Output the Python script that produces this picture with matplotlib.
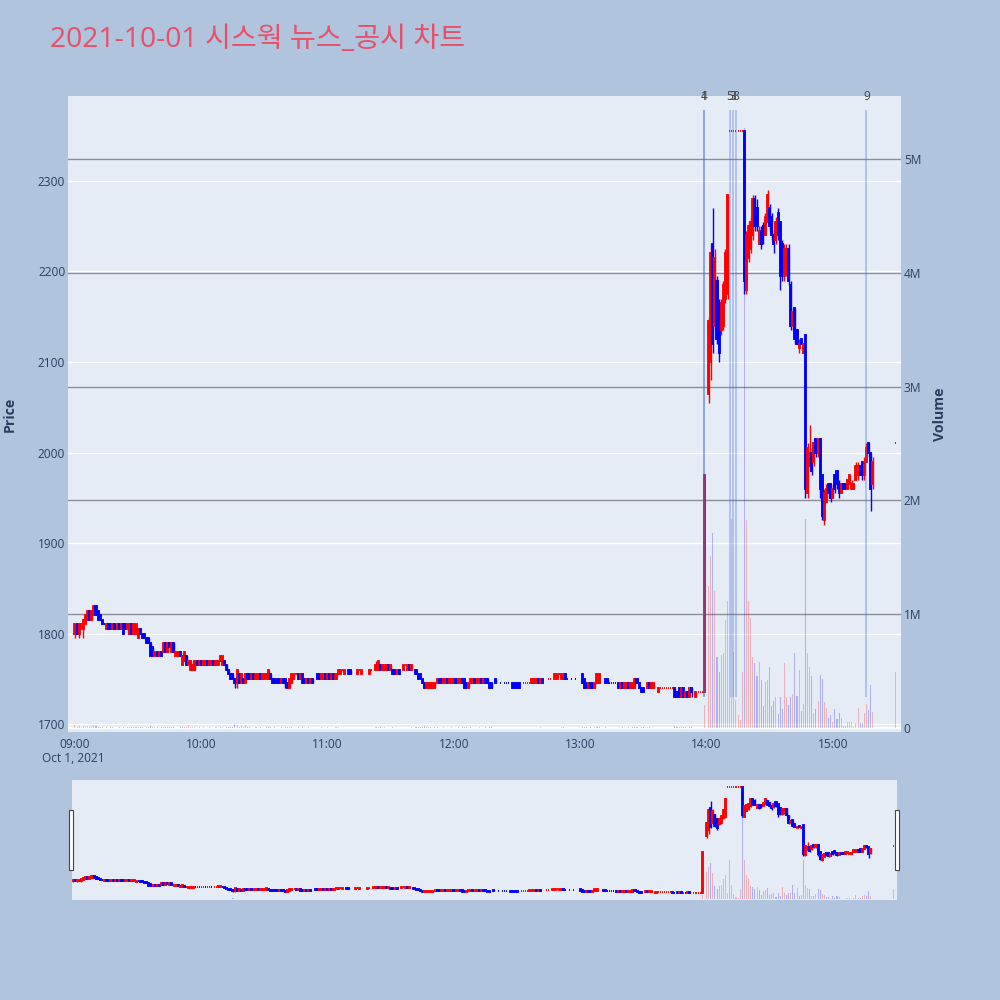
import numpy as np
import pandas as pd
import matplotlib
matplotlib.use("Agg")
import matplotlib.pyplot as plt
from matplotlib.patches import Rectangle
from matplotlib.transforms import blended_transform_factory

plt.rcParams['font.family'] = ['Open Sans', 'Noto Sans CJK KR', 'DejaVu Sans']

N = None
# ---------------- data (1-minute candles, 09:00 .. 15:19 plus 15:30 close) ----------------
times = pd.date_range('2021-10-01 09:00', '2021-10-01 15:19', freq='min').append(
    pd.DatetimeIndex(['2021-10-01 15:30']))

opens = [
 1800,1810,1800,1805,1805,1810,1815,1825,1815,1820,
 1830,1825,1820,1815,1810,1805,1810,1810,1805,1810,
 1805,1810,1805,1810,1810,1805,1800,1810,1800,1800,
 1795,1805,1800,1800,1795,1795,1790,1785,1775,1780,
 1775,1780,1780,1790,1780,1790,1780,1790,1775,1775,
 1780,1765,1770,1775,1765,1760,1760,1760,1770,1765,
 1770,1765,1765,1770,1765,1765,1770,1765,1765,1770,
 1765,1770,1765,1760,1755,1755,1750,1745,1755,1745,
 1750,1745,1755,1755,1750,1755,1750,1750,1755,1750,
 1750,1750,1750,1755,1750,1750,1750,1750,1745,1750,
 1750,1745,1740,1745,1750,1755,1755,1750,1755,1750,
 1745,1750,1745,1750,N,1755,1755,1750,1750,1755,
 1750,1755,1750,1755,1750,1755,1755,1760,1755,N,
 1760,1760,N,N,1755,1760,1755,N,N,N,
 1755,1760,N,1760,1760,1765,1760,1760,1760,1765,
 1760,1760,1760,1755,1760,N,1760,1765,1760,1765,
 1760,N,1760,1755,1755,1750,1745,1740,1740,1740,
 1740,1740,1745,1750,1750,1745,1745,1750,1745,1745,
 1745,1750,1745,1745,1750,1750,1745,1740,1745,1745,
 1750,1745,1745,1750,1745,1750,1750,1745,1745,N,
 1750,N,1745,N,1745,1745,1745,N,1745,1745,
 1745,1745,N,1745,1745,1745,1745,1745,1745,1745,
 1750,1745,1750,N,N,1750,1750,N,1750,1750,
 1755,1750,1750,1755,1750,N,1750,N,1750,N,
 N,1755,1750,1745,1740,1745,1745,1740,1745,1745,
 N,N,1750,1750,1745,1745,1745,1745,1745,1740,
 1745,1740,1740,1745,1740,1740,1740,1750,1745,1740,
 1740,N,1740,1745,1740,1740,N,1735,1740,1740,
 1740,1740,1740,1740,1740,1740,1735,1740,1730,1740,
 1730,1735,1730,1740,N,1730,1735,1735,1735,1735,
 N,2065,2100,2230,2140,2190,2165,2135,2140,2170,
 2175,2355,2355,2355,2355,2355,2355,2355,2355,2180,
 2215,2225,2240,2280,2270,2230,2245,2250,2240,2255,
 2270,2260,2240,2235,2265,2255,2230,2195,2200,2225,
 2185,2140,2160,2135,2115,2125,2110,2130,1955,1985,
 2000,1990,2015,2000,2015,1975,1925,1945,1965,1965,
 1950,1975,1980,1965,1955,1965,1965,1960,1965,1960,
 1960,1970,1975,1985,1990,1975,1990,2010,2000,1965,
 2010]

highs = [
 1810,1810,1810,1810,1815,1820,1825,1825,1825,1830,
 1830,1825,1820,1815,1810,1810,1810,1810,1810,1810,
 1810,1810,1810,1810,1810,1810,1810,1810,1810,1810,
 1805,1805,1800,1800,1795,1795,1790,1785,1780,1780,
 1780,1780,1790,1790,1790,1790,1790,1790,1780,1780,
 1780,1775,1780,1775,1770,1770,1765,1770,1770,1770,
 1770,1770,1770,1770,1770,1770,1770,1770,1770,1775,
 1775,1770,1765,1760,1755,1755,1750,1760,1755,1755,
 1750,1755,1755,1755,1755,1755,1755,1755,1755,1755,
 1755,1755,1760,1755,1750,1750,1750,1750,1750,1750,
 1750,1745,1750,1755,1755,1755,1755,1755,1755,1750,
 1750,1750,1750,1750,N,1755,1755,1755,1755,1755,
 1755,1755,1755,1755,1755,1760,1760,1760,1760,N,
 1760,1760,N,N,1760,1760,1760,N,N,N,
 1760,1760,N,1770,1770,1765,1765,1765,1765,1765,
 1765,1760,1760,1760,1760,N,1765,1765,1765,1765,
 1765,N,1760,1755,1755,1750,1745,1745,1745,1745,
 1745,1745,1750,1750,1750,1750,1750,1750,1750,1750,
 1750,1750,1750,1750,1750,1750,1745,1745,1750,1750,
 1750,1750,1750,1750,1750,1750,1750,1745,1745,N,
 1750,N,1745,N,1745,1745,1745,N,1745,1745,
 1745,1745,N,1745,1745,1745,1745,1750,1750,1750,
 1750,1750,1750,N,N,1750,1750,N,1755,1755,
 1755,1755,1755,1755,1750,N,1750,N,1750,N,
 N,1755,1750,1745,1745,1745,1745,1745,1755,1755,
 N,N,1750,1750,1745,1745,1745,1745,1745,1745,
 1745,1745,1745,1745,1745,1745,1750,1750,1745,1740,
 1740,N,1745,1745,1745,1745,N,1740,1740,1740,
 1740,1740,1740,1740,1740,1740,1735,1740,1740,1740,
 1735,1735,1740,1740,N,1735,1735,1735,1735,1975,
 N,2150,2230,2270,2225,2195,2170,2170,2190,2225,
 2285,2355,2355,2355,2355,2355,2355,2355,2355,2245,
 2255,2260,2285,2285,2280,2250,2250,2255,2265,2290,
 2275,2265,2245,2260,2270,2255,2235,2230,2230,2230,
 2190,2160,2160,2135,2125,2125,2120,2130,2010,2030,
 2005,2015,2015,2015,2015,1975,1960,1965,1965,1965,
 1965,1975,1980,1970,1965,1965,1965,1970,1975,1970,
 1965,1990,1990,1985,1990,1995,2010,2010,2000,1995,
 2010]

lows = [
 1795,1800,1795,1805,1795,1810,1815,1815,1815,1820,
 1820,1815,1815,1810,1810,1805,1805,1805,1805,1805,
 1805,1805,1805,1800,1805,1800,1800,1800,1800,1800,
 1795,1800,1795,1795,1790,1790,1775,1775,1775,1775,
 1775,1775,1780,1780,1780,1785,1780,1780,1775,1775,
 1775,1765,1770,1765,1765,1760,1760,1760,1765,1765,
 1765,1765,1765,1765,1765,1765,1765,1765,1765,1770,
 1765,1765,1760,1755,1750,1750,1740,1740,1745,1745,
 1745,1745,1750,1750,1750,1750,1750,1750,1750,1750,
 1750,1750,1750,1750,1745,1745,1745,1745,1745,1745,
 1740,1740,1740,1745,1750,1755,1750,1750,1745,1745,
 1745,1745,1745,1745,N,1750,1750,1750,1750,1750,
 1750,1750,1750,1750,1750,1755,1755,1760,1755,N,
 1755,1755,N,N,1755,1760,1755,N,N,N,
 1755,1760,N,1760,1760,1760,1760,1760,1760,1760,
 1760,1755,1755,1755,1755,N,1760,1765,1760,1760,
 1760,N,1755,1750,1750,1745,1740,1740,1740,1740,
 1740,1740,1745,1745,1745,1745,1745,1745,1745,1745,
 1745,1745,1745,1745,1745,1740,1740,1740,1745,1745,
 1745,1745,1745,1745,1745,1745,1745,1740,1740,N,
 1745,N,1745,N,1745,1745,1745,N,1740,1740,
 1740,1740,N,1745,1745,1745,1745,1745,1745,1745,
 1745,1745,1745,N,N,1750,1750,N,1750,1750,
 1755,1750,1750,1750,1750,N,1750,N,1750,N,
 N,1745,1740,1740,1740,1740,1740,1740,1745,1745,
 N,N,1745,1745,1745,1745,1745,1745,1740,1740,
 1740,1740,1740,1740,1740,1740,1740,1745,1740,1735,
 1735,N,1740,1740,1740,1740,N,1735,1740,1740,
 1740,1740,1740,1740,1740,1730,1730,1730,1730,1730,
 1730,1730,1730,1730,N,1730,1735,1735,1735,1735,
 N,2055,2080,2110,2135,2120,2100,2130,2135,2165,
 2170,2355,2355,2355,2355,2355,2355,2355,2175,2175,
 2210,2220,2235,2245,2245,2230,2225,2230,2240,2255,
 2245,2235,2220,2230,2235,2180,2190,2190,2195,2185,
 2135,2135,2120,2120,2110,2120,2110,1950,1950,1980,
 1975,1985,1995,1995,1950,1925,1920,1945,1950,1945,
 1950,1955,1960,1950,1955,1960,1960,1960,1965,1960,
 1960,1970,1970,1975,1970,1970,1990,1995,1935,1960,
 2010]

closes = [
 1810,1800,1810,1810,1815,1820,1825,1815,1825,1830,
 1820,1815,1815,1810,1810,1810,1805,1805,1810,1805,
 1810,1805,1810,1800,1805,1810,1810,1800,1810,1810,
 1805,1800,1795,1795,1790,1790,1775,1775,1780,1775,
 1780,1775,1790,1780,1790,1785,1790,1780,1780,1780,
 1775,1775,1780,1765,1770,1770,1765,1770,1765,1770,
 1765,1770,1770,1765,1770,1770,1765,1770,1770,1775,
 1775,1765,1760,1755,1750,1750,1745,1760,1745,1755,
 1745,1755,1750,1750,1755,1750,1755,1755,1750,1755,
 1755,1755,1760,1750,1745,1745,1745,1745,1750,1745,
 1745,1740,1750,1755,1755,1755,1750,1755,1745,1745,
 1750,1745,1750,1745,N,1750,1750,1755,1755,1750,
 1755,1750,1755,1750,1755,1760,1760,1760,1760,N,
 1755,1755,N,N,1760,1760,1760,N,N,N,
 1760,1760,N,1765,1770,1760,1765,1765,1765,1760,
 1765,1755,1755,1760,1755,N,1765,1765,1765,1760,
 1765,N,1755,1750,1750,1745,1740,1745,1745,1745,
 1745,1745,1750,1745,1745,1750,1750,1745,1750,1750,
 1750,1745,1750,1750,1745,1740,1740,1745,1750,1750,
 1745,1750,1750,1745,1750,1745,1745,1740,1740,N,
 1745,N,1745,N,1745,1745,1745,N,1740,1740,
 1740,1740,N,1745,1745,1745,1745,1750,1750,1750,
 1745,1750,1745,N,N,1750,1750,N,1755,1755,
 1755,1755,1755,1750,1750,N,1750,N,1750,N,
 N,1745,1740,1740,1745,1740,1740,1745,1755,1755,
 N,N,1745,1745,1745,1745,1745,1745,1740,1745,
 1740,1745,1745,1740,1745,1745,1750,1745,1740,1735,
 1735,N,1745,1740,1745,1745,N,1740,1740,1740,
 1740,1740,1740,1740,1740,1730,1730,1730,1740,1730,
 1735,1730,1740,1735,N,1735,1735,1735,1735,1975,
 N,2145,2220,2120,2215,2125,2110,2165,2185,2220,
 2285,2355,2355,2355,2355,2355,2355,2355,2190,2240,
 2250,2255,2280,2250,2250,2245,2230,2240,2260,2285,
 2250,2240,2230,2255,2240,2195,2200,2225,2225,2190,
 2140,2155,2125,2120,2120,2120,2120,1960,2005,2000,
 1980,2010,2000,2015,1960,1930,1955,1960,1955,1950,
 1960,1960,1965,1955,1965,1960,1960,1970,1975,1965,
 1965,1985,1985,1975,1975,1990,2005,2000,1960,1990,
 2010]

# volume in thousands of shares
volumes_k = [
 25,12,18,8,15,20,22,10,14,30,
 18,9,6,7,3,5,4,6,5,3,
 4,6,3,5,4,7,8,5,6,9,
 10,6,5,4,7,5,18,9,6,5,
 4,6,12,7,8,5,6,5,4,3,
 5,9,6,8,30,12,7,5,4,6,
 4,5,3,4,6,3,4,5,3,6,
 5,4,7,9,8,12,35,28,10,14,
 8,25,6,5,4,3,5,4,6,3,
 4,5,12,6,4,5,3,4,5,3,
 8,6,9,7,4,3,5,4,6,3,
 4,5,3,4,0,3,4,5,3,4,
 5,3,4,3,5,6,4,2,3,0,
 3,2,0,0,4,2,3,0,0,0,
 3,2,0,8,10,6,4,5,3,4,
 3,5,4,3,4,0,3,2,4,3,
 5,0,6,7,8,12,15,10,6,5,
 4,5,6,4,3,5,4,3,4,5,
 3,4,5,3,6,8,5,4,5,3,
 4,3,5,4,3,5,4,6,5,0,
 3,0,2,0,2,2,1,0,4,3,
 3,4,0,2,1,2,1,3,4,3,
 4,5,3,0,0,2,2,0,3,4,
 2,5,6,4,2,0,1,0,2,0,
 0,12,8,5,4,6,3,5,10,8,
 0,0,5,4,2,1,2,1,4,3,
 5,4,3,5,4,6,8,5,4,10,
 12,0,6,5,4,3,0,4,2,1,
 2,1,2,1,2,15,10,12,8,6,
 5,4,6,5,0,4,3,2,4,200,
 0,1250,1510,1710,1200,620,490,640,660,950,
 1120,270,1840,670,250,110,70,490,5270,1830,
 1120,970,620,570,460,580,420,190,400,420,
 540,190,240,270,120,270,170,570,270,200,
 270,300,660,280,510,150,210,1840,660,540,
 460,130,170,240,470,430,230,180,90,110,
 50,170,80,130,90,20,20,50,50,50,
 10,40,180,40,40,130,210,160,380,140,
 490]

news_labels = ['1', '4', '5', '3', '8', '9']
news_times = ['13:58:50', '13:58:50', '14:11:10', '14:12:40', '14:14:10', '15:16:00']

price_ticks = [1700, 1800, 1900, 2000, 2100, 2200, 2300]
vol_ticks = [0, 1e6, 2e6, 3e6, 4e6, 5e6]
vol_tick_labels = ['0', '1M', '2M', '3M', '4M', '5M']
hour_ticks = ['09:00', '10:00', '11:00', '12:00', '13:00', '14:00', '15:00']

# ---------------- prepare ----------------
day0 = pd.Timestamp('2021-10-01 09:00')
x = ((times - day0) / pd.Timedelta(minutes=1)).to_numpy(dtype=float)
o = np.array(opens, dtype=float)
h = np.array(highs, dtype=float)
l = np.array(lows, dtype=float)
c = np.array(closes, dtype=float)
v = np.array(volumes_k, dtype=float) * 1000.0
n = min(len(x), len(o), len(h), len(l), len(c), len(v))
x, o, h, l, c, v = x[:n], o[:n], h[:n], l[:n], c[:n], v[:n]

# plotly-style direction rule (doji keeps direction unless close changed)
inc = np.zeros(n, dtype=bool)
state = True
prev_c = None
for i in range(n):
    if np.isnan(o[i]):
        inc[i] = state
        continue
    if c[i] == o[i]:
        if prev_c is not None and c[i] != prev_c:
            state = c[i] > prev_c
    else:
        state = c[i] > o[i]
    inc[i] = state
    prev_c = c[i]

RED = '#FF0000'
BLUE = '#0000FF'
valid = ~np.isnan(o)
cols = np.where(inc, RED, BLUE)
vcol_list = [(1, 0, 0, 0.25) if d else (0, 0, 1, 0.25) for d in inc]

BG = '#B0C4DE'
PLOT_BG = '#E5ECF6'
TXT = '#2a3f5f'

XMIN, XMAX = -3.3, 392.4
RS_XMIN, RS_XMAX = -0.5, 391.5
PMIN, PMAX = 1691.2, 2393.9
VMIN, VMAX = -0.035e6, 5.554e6


def draw_candles(axp, body_w=0.5, wick_lw=1.0, edge_lw=1.35):
    xv, ov, hv, lv, cv = x[valid], o[valid], h[valid], l[valid], c[valid]
    cl = cols[valid]
    axp.vlines(xv, lv, hv, colors=cl, lw=wick_lw, zorder=3)
    axp.bar(xv, np.abs(cv - ov), bottom=np.minimum(ov, cv), width=body_w,
            color=cl, edgecolor=cl, linewidth=edge_lw, zorder=4)


def draw_volume(axv):
    idx = np.where(v > 0)[0]
    axv.bar(x[idx], v[idx], width=0.5, color=[vcol_list[i] for i in idx],
            linewidth=0, zorder=2)


fig = plt.figure(figsize=(10, 10), dpi=100, facecolor=BG)

# ---------------- main chart ----------------
ax_v = fig.add_axes([0.068, 0.268, 0.833, 0.636])
ax_v.set_facecolor(PLOT_BG)
ax_p = ax_v.twinx()
ax_p.patch.set_visible(False)
for a in (ax_v, ax_p):
    for s in a.spines.values():
        s.set_visible(False)
    a.set_xlim(XMIN, XMAX)
ax_v.set_ylim(VMIN, VMAX)
ax_p.set_ylim(PMIN, PMAX)

# gridlines (below traces)
ptrans = blended_transform_factory(ax_v.transAxes, ax_p.transData)
for pt in price_ticks:
    ax_v.plot([0, 1], [pt, pt], transform=ptrans, color='white', lw=1.0, zorder=0.5)
for vt in vol_ticks[1:]:
    ax_v.axhline(vt, color='#8a8f99', lw=1.0, zorder=0.6)
ax_v.axhline(0, color='white', lw=1.6, zorder=0.6)

draw_volume(ax_v)
draw_candles(ax_p)

# news lines
news_x = [(pd.Timestamp('2021-10-01 ' + t) - day0) / pd.Timedelta(minutes=1) for t in news_times]
line_lo = np.nanmin(l)
line_hi = np.nanmax(h) * 1.01
for nx in news_x:
    ax_p.vlines(nx, line_lo, line_hi, colors=[(0.25, 0.41, 0.88, 0.35)], lw=1.3, zorder=5)
ntrans = blended_transform_factory(ax_p.transData, ax_p.transAxes)
for nx, lab in zip(news_x, news_labels):
    ax_p.text(nx, 1.0, lab, transform=ntrans, ha='center', va='center',
              fontsize=8.6, color='#444444', zorder=6, clip_on=False)

# ticks
ax_v.set_xticks([60 * i for i in range(len(hour_ticks))])
ax_v.set_xticklabels(hour_ticks)
ax_p.tick_params(axis='x', bottom=False, labelbottom=False)
ax_v.tick_params(axis='x', length=0, pad=4, labelsize=8.6, labelcolor=TXT)

ax_p.yaxis.set_ticks_position('left')
ax_p.yaxis.set_label_position('left')
ax_p.set_yticks(price_ticks)
ax_p.set_yticklabels([str(t) for t in price_ticks])
ax_p.tick_params(axis='y', length=0, pad=2, labelsize=8.6, labelcolor=TXT,
                 left=False, right=False, labelleft=True, labelright=False)

ax_v.yaxis.tick_right()
ax_v.yaxis.set_label_position('right')
ax_v.set_yticks(vol_ticks)
ax_v.set_yticklabels(vol_tick_labels)
ax_v.tick_params(axis='y', length=0, pad=2, labelsize=8.6, labelcolor=TXT,
                 left=False, right=False, labelleft=False, labelright=True)

fig.text(0.073, 1 - 758 / 1000, 'Oct 1, 2021', ha='center', va='center',
         fontsize=8.6, color=TXT)
fig.text(0.010, 1 - 414 / 1000, 'Price', rotation=90, ha='center', va='center',
         fontsize=10.2, color=TXT, fontweight='bold')
fig.text(0.940, 1 - 414 / 1000, 'Volume', rotation=90, ha='center', va='center',
         fontsize=10.2, color=TXT, fontweight='bold')

fig.text(0.050, 1 - 40 / 1000, '2021-10-01 시스웍 뉴스_공시 차트', ha='left', va='center',
         fontsize=20.3, color='#EA4F69', family=['Open Sans', 'Noto Sans CJK KR'])

# ---------------- range slider ----------------
rs_v = fig.add_axes([0.072, 0.100, 0.825, 0.120])
rs_v.set_facecolor(PLOT_BG)
rs_p = rs_v.twinx()
rs_p.patch.set_visible(False)
for a in (rs_v, rs_p):
    for s in a.spines.values():
        s.set_visible(False)
    a.set_xlim(RS_XMIN, RS_XMAX)
    a.set_xticks([])
    a.set_yticks([])
rs_v.set_ylim(VMIN, VMAX)
rs_p.set_ylim(PMIN, PMAX)
draw_volume(rs_v)
draw_candles(rs_p, body_w=0.5, wick_lw=1.0, edge_lw=1.35)

for hx in (0.069, 0.895):
    fig.add_artist(Rectangle((hx, 0.130), 0.004, 0.060, transform=fig.transFigure,
                             facecolor='white', edgecolor='#444444', lw=0.8))

fig.savefig('out.png', dpi=100, facecolor=BG)
